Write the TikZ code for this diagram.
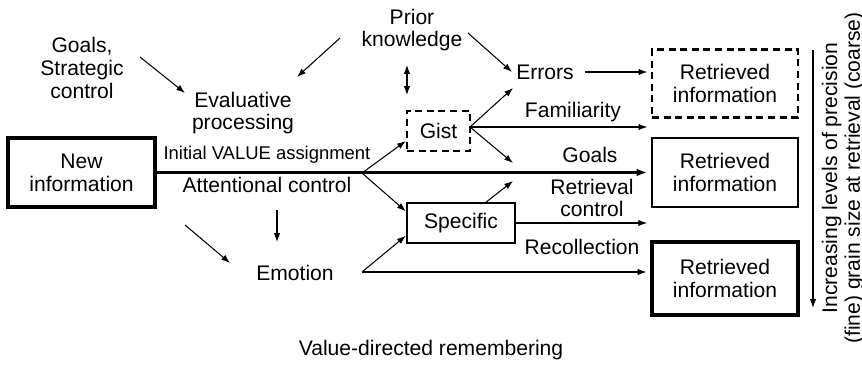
\documentclass[tikz,border=0pt]{standalone}
\usepackage{fontspec}
\setmainfont{Liberation Sans}
\usetikzlibrary{arrows.meta,calc}
\newcommand{\thinw}{0.6pt}
\newcommand{\mainw}{1.7pt}

\tikzset{
    txt/.style = {align=center, font=\fontsize{12}{13}\selectfont, inner sep=1pt},
    smalltxt/.style = {align=center, font=\fontsize{10.5}{12}\selectfont, inner sep=1pt},
    arr/.style = {-{Latex[length=5pt,width=3.6pt]}, line width=\thinw},
    infobox/.style = {draw, txt, minimum width=2.92cm, minimum height=1.36cm},
    dashbox/.style = {dash pattern=on 4pt off 2.6pt, line width=1.3pt},
}

\begin{document}
\begin{tikzpicture}[x=0.02cm, y=-0.02cm]

    \useasboundingbox (0,0) rectangle (862,366);

%%%%        Boxes
    \node (newinfo) [infobox, line width=1.8pt, minimum width=2.94cm, minimum height=1.38cm] at (81.5,172.5) {New\\information};
    \node (ret1) [infobox, dashbox] at (725,83.5) {Retrieved\\information};
    \node (ret2) [infobox, line width=1.5pt, minimum height=1.38cm] at (725,172.5) {Retrieved\\information};
    \node (ret3) [infobox, line width=2.3pt, minimum height=1.46cm] at (725,278.5) {Retrieved\\information};
    \node (gist) [draw, txt, dashbox, minimum width=1.26cm, minimum height=0.8cm] at (438.5,131) {Gist};
    \node (specific) [draw, txt, line width=1.4pt, minimum width=2.16cm, minimum height=0.8cm] at (461,223) {Specific};

%%%%        Labels
    \node (goals) [txt] at (82,68) {Goals,\\Strategic\\control};
    \node (evalp) [txt] at (243,113) {Evaluative\\processing};
    \node (prior) [txt] at (412,30) {Prior\\knowledge};
    \node (errors) [txt] at (545,72) {Errors};
    \node (initval) [smalltxt] at (267,155) {Initial VALUE assignment};
    \node (attn) [txt] at (267,185) {Attentional control};
    \node (emotion) [txt] at (295,273) {Emotion};
    \node (famil) [txt] at (573,112) {Familiarity};
    \node (goalsb) [txt] at (590,155) {Goals};
    \node (retctrl) [txt] at (592,198) {Retrieval\\control};
    \node (recoll) [txt] at (582,247) {Recollection};
    \node (vdr) [txt] at (431,350) {Value-directed remembering};
    \node (prec) [txt, rotate=90] at (843,178) {Increasing levels of precision\\(fine) grain size at retrieval (coarse)};

%%%%        Free ends
    \coordinate (g1) at (140,57);
    \coordinate (g2) at (185,93);
    \coordinate (p1) at (340,38);
    \coordinate (p2) at (297,77);
    \coordinate (p3) at (468,33);
    \coordinate (p4) at (512,72);
    \coordinate (d1) at (407,65);
    \coordinate (d2) at (407,95);
    \coordinate (fan) at (362,173);
    \coordinate (gfan) at (470,127);
    \coordinate (gup) at (513,88);
    \coordinate (gdn) at (513,163);
    \coordinate (sfrom) at (485,203);
    \coordinate (sup) at (513,181);
    \coordinate (efan) at (362,272);
    \coordinate (m1) at (185,225);
    \coordinate (m2) at (230,263);
    \coordinate (a1) at (277,210);
    \coordinate (a2) at (277,242);
    \coordinate (r1) at (813,50);
    \coordinate (r2) at (813,308);

%%%%        Arrows
    \foreach\v/\w in {g1/g2,p1/p2,p3/p4,gfan/gup,gfan/gdn,sfrom/sup,m1/m2,a1/a2,r1/r2}
    {
        \draw[arr] (\v) -- (\w);
    }
    \draw[arr, {Latex[length=5pt,width=3.6pt]}-{Latex[length=5pt,width=3.6pt]}] (d1) -- (d2);

    \draw[arr, line width=\mainw, -{Latex[length=6pt,width=4.4pt]}] (newinfo.east) -- ([xshift=-2pt]newinfo.east -| ret2.west);
    \draw[arr] (fan) -- (gist.197);
    \draw[arr] (fan) -- (specific.168);
    \draw[arr] (efan) -- (specific.193);
    \draw[arr, shorten <=5pt] (errors.east) -- ([xshift=-2pt]errors.east -| ret1.west);
    \draw[arr] (gfan) -- ([xshift=-2pt]gfan -| ret1.west);
    \draw[arr] (specific.east) -- ([xshift=-2pt]specific.east -| ret2.west);
    \draw[arr] (efan) -- ([xshift=-2pt]efan -| ret3.west);

\end{tikzpicture}
\end{document}
